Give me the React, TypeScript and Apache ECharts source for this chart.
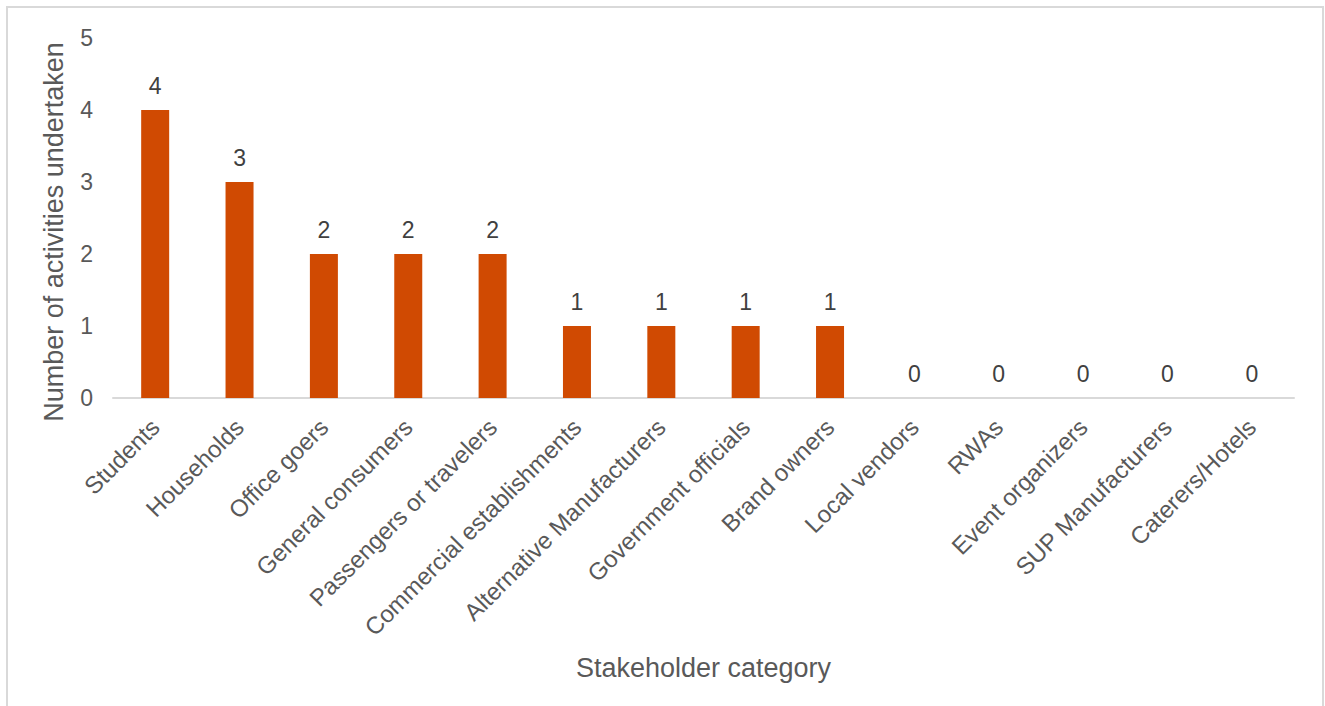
import React, { useEffect, useRef } from "react";
import * as echarts from "echarts";

const categories = [
  "Students",
  "Households",
  "Office goers",
  "General consumers",
  "Passengers or travelers",
  "Commercial establishments",
  "Alternative Manufacturers",
  "Government officials",
  "Brand owners",
  "Local vendors",
  "RWAs",
  "Event organizers",
  "SUP Manufacturers",
  "Caterers/Hotels",
];
const activityCounts = [4, 3, 2, 2, 2, 1, 1, 1, 1, 0, 0, 0, 0, 0];
const yTicks = [0, 1, 2, 3, 4, 5];

const FONT = "'Liberation Sans', Arial, sans-serif";

export default function App() {
  const ref = useRef<HTMLDivElement>(null);
  useEffect(() => {
    if (!ref.current) return;
    const chart = echarts.init(ref.current, null, { renderer: "svg" });
    chart.setOption({
      animation: false,
      backgroundColor: "#ffffff",
      textStyle: { fontFamily: FONT },
      graphic: [
        {
          type: "rect",
          shape: { x: 7, y: 7, width: 1316, height: 720 },
          style: { fill: "none", stroke: "#d9d9d9", lineWidth: 2 },
          silent: true,
        },
      ],
      grid: { left: 113, right: 31, top: 38, bottom: 308, containLabel: false },
      xAxis: {
        type: "category",
        data: categories,
        name: "Stakeholder category",
        nameLocation: "middle",
        nameGap: 256,
        nameTextStyle: { fontSize: 27, color: "#595959", fontFamily: FONT },
        axisLine: { show: true, lineStyle: { color: "#d9d9d9", width: 2 } },
        axisTick: { show: false },
        axisLabel: {
          rotate: 45,
          interval: 0,
          margin: 25,
          fontSize: 24,
          color: "#595959",
          fontFamily: FONT,
        },
      },
      yAxis: {
        type: "value",
        min: yTicks[0],
        max: yTicks[yTicks.length - 1],
        interval: 1,
        name: "Number of activities undertaken",
        nameLocation: "middle",
        nameGap: 46,
        nameTextStyle: {
          fontSize: 27,
          color: "#595959",
          fontFamily: FONT,
          padding: [0, 28, 0, 0],
        },
        axisLine: { show: false },
        axisTick: { show: false },
        splitLine: { show: false },
        axisLabel: {
          margin: 20,
          fontSize: 23,
          color: "#595959",
          fontFamily: FONT,
        },
      },
      series: [
        {
          type: "bar",
          data: activityCounts,
          barWidth: 28,
          itemStyle: { color: "#D04A02" },
          label: {
            show: true,
            position: "top",
            distance: 13,
            fontSize: 23,
            color: "#404040",
            fontFamily: FONT,
          },
        },
      ],
    });
    return () => chart.dispose();
  }, []);
  return (
    <div
      ref={ref}
      style={{ position: "absolute", left: 0, top: 0, width: 1325, height: 706 }}
    />
  );
}
